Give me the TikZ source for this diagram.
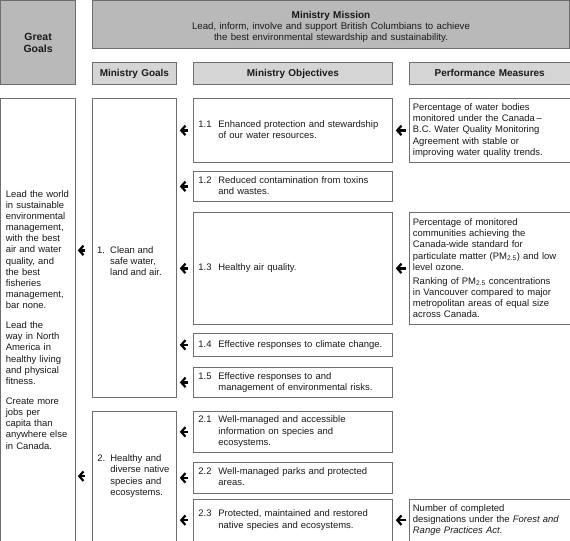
\documentclass[tikz,border=0pt]{standalone}
\usepackage{fontspec}
\setmainfont{Liberation Sans}
\usetikzlibrary{arrows.meta}
\definecolor{bordergray}{HTML}{6E6E6E}
\definecolor{darkfill}{HTML}{B9B9B9}
\definecolor{lightfill}{HTML}{D5D5D5}
\definecolor{inkc}{HTML}{1A1A1A}
\newcommand\numobj[2]{\begin{tabular}{@{}p{20bp}@{}l@{}}#1&#2\end{tabular}}
\newcommand\numgoal[2]{\begin{tabular}{@{}p{13bp}@{}l@{}}#1&#2\end{tabular}}
\tikzset{
  box/.style={draw=bordergray, line width=0.8bp, fill=white, anchor=north west,
    inner xsep=5bp, inner ysep=0bp, align=left, text=inkc,
    font=\fontsize{9.5}{11.2}\selectfont},
  darkhdr/.style={box, fill=darkfill, align=center, font=\fontsize{10}{11}\selectfont},
  lighthdr/.style={box, fill=lightfill, align=center, text height=7.5bp, text depth=2bp,
    font=\fontsize{10}{11}\selectfont\bfseries},
  txt/.style={inner sep=0bp, align=left, text=inkc, font=\fontsize{9.5}{11.2}\selectfont},
  arr/.style={draw=black, line width=2.4bp,
    -{Straight Barb[length=4.2bp,width=9.5bp,line width=2.2bp]}}
}
\begin{document}
\begin{tikzpicture}[x=1bp,y=-1bp]
\useasboundingbox (0,0) rectangle (570,541);
% headers
\node[darkhdr, minimum width=74.6bp, minimum height=83.6bp, text width=64.6bp,
  font=\fontsize{10.5}{12}\selectfont\bfseries] (gg) at (0.4,0.4) {Great\\Goals};
\node[darkhdr, minimum width=477.2bp, minimum height=47.6bp, text width=467.2bp] (mm) at (92,0.4)
  {\rule{0pt}{11.5bp}{\bfseries Ministry Mission}\\[0.2bp]{\fontsize{9.7}{10.3}\selectfont Lead, inform, involve and support British Columbians to achieve\\the best environmental stewardship and sustainability.}};
\node[lighthdr, minimum width=84bp, minimum height=22bp, text width=74bp] (hg) at (92,62) {Ministry Goals};
\node[lighthdr, minimum width=199bp, minimum height=22bp, text width=189bp] (ho) at (193,62) {Ministry Objectives};
\node[lighthdr, minimum width=160.6bp, minimum height=22bp, text width=150.6bp] (hp) at (409,62) {Performance Measures};
% great goals column
\node[box, minimum width=74.6bp, minimum height=442.6bp, text width=64.6bp] (left) at (0.4,98)
  {Lead the world\\in sustainable\\environmental\\management,\\with the best\\air and water\\quality, and\\the best\\fisheries\\management,\\bar none.\\[8.8bp]Lead the\\way in North\\America in\\healthy living\\and physical\\fitness.\\[8.8bp]Create more\\jobs per\\capita than\\anywhere else\\in Canada.};
% ministry goals
\node[box, minimum width=84bp, minimum height=299bp, text width=74bp] (g1) at (92,98) {};
\node[txt, anchor=west] (g1t) at (97,262) {\numgoal{1.}{Clean and\\&safe water,\\&land and air.}};
\node[box, minimum width=84bp, minimum height=129.6bp, text width=74bp] (g2) at (92,411)
  {\numgoal{2.}{Healthy and\\&diverse native\\&species and\\&ecosystems.}};
% objectives
\node[box, minimum width=199bp, minimum height=64bp, text width=189bp] (o11) at (193,98)
  {\numobj{1.1}{Enhanced protection and stewardship\\&of our water resources.}};
\node[box, minimum width=199bp, minimum height=30bp, text width=189bp] (o12) at (193,171)
  {\numobj{1.2}{Reduced contamination from toxins\\&and wastes.}};
\node[box, minimum width=199bp, minimum height=112bp, text width=189bp] (o13) at (193,212)
  {\numobj{1.3}{Healthy air quality.}};
\node[box, minimum width=199bp, minimum height=23bp, text width=189bp] (o14) at (193,333)
  {\numobj{1.4}{Effective responses to climate change.}};
\node[box, minimum width=199bp, minimum height=30bp, text width=189bp] (o15) at (193,367)
  {\numobj{1.5}{Effective responses to and\\&management of environmental risks.}};
\node[box, minimum width=199bp, minimum height=41bp, text width=189bp] (o21) at (193,411)
  {\numobj{2.1}{Well-managed and accessible\\&information on species and\\&ecosystems.}};
\node[box, minimum width=199bp, minimum height=31bp, text width=189bp] (o22) at (193,462)
  {\numobj{2.2}{Well-managed parks and protected\\&areas.}};
\node[box, minimum width=199bp, minimum height=41.6bp, text width=189bp] (o23) at (193,499)
  {\numobj{2.3}{Protected, maintained and restored\\&native species and ecosystems.}};
% performance measures
\node[box, inner xsep=3.5bp, minimum width=160.6bp, minimum height=64bp, text width=153.6bp] (p1) at (409,98)
  {Percentage of water bodies\\monitored under the Canada\,–\\B.C. Water Quality Monitoring\\Agreement with stable or\\improving water quality trends.};
\node[box, inner xsep=3.5bp, minimum width=160.6bp, minimum height=112bp, text width=153.6bp] (p2) at (409,212)
  {Percentage of monitored\\communities achieving the\\Canada-wide standard for\\particulate matter (PM\textsubscript{2.5}) and low\\level ozone.\\[3bp]Ranking of PM\textsubscript{2.5} concentrations\\in Vancouver compared to major\\metropolitan areas of equal size\\across Canada.};
\node[box, inner xsep=3.5bp, minimum width=160.6bp, minimum height=41.6bp, text width=153.6bp] (p3) at (409,499)
  {Number of completed\\designations under the \textit{Forest and}\\\textit{Range Practices Act}.};
% arrows: goals -> great goals
\path ([yshift=-2.5bp]g1.west) coordinate (g1a);
\draw[arr, shorten <=7.5bp, shorten >=2bp] (g1a) -- (g1a -| left.east);
\draw[arr, shorten <=7.5bp, shorten >=2bp] (g2.west) -- (g2.west -| left.east);
% objectives -> goals
\foreach \o/\g in {o11/g1,o12/g1,o13/g1,o14/g1,o15/g1,o21/g2,o22/g2,o23/g2}
  \draw[arr, shorten <=5bp, shorten >=3bp] (\o.west) -- (\o.west -| \g.east);
% measures -> objectives
\foreach \p/\o in {p1/o11,p2/o13,p3/o23}
  \draw[arr, shorten <=3.5bp, shorten >=3bp] (\p.west) -- (\p.west -| \o.east);
\end{tikzpicture}
\end{document}
